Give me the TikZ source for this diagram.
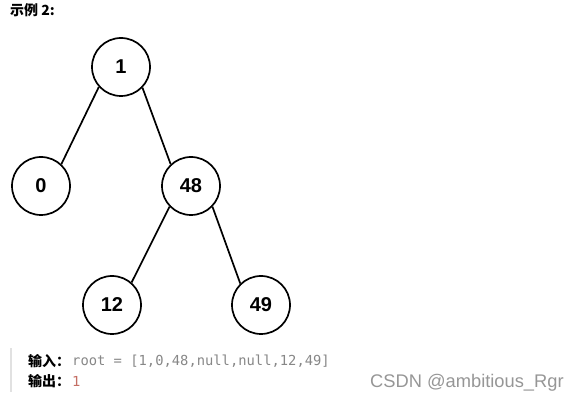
\documentclass[tikz,border=0pt]{standalone}
\usepackage{fontspec}
\setmainfont{Liberation Sans}
\newfontfamily\cjk{Noto Sans CJK SC}
\newfontfamily\codefont{DejaVu Sans Mono}
\definecolor{codegray}{RGB}{135,135,135}
\definecolor{outred}{RGB}{196,110,100}
\definecolor{bargray}{RGB}{225,225,225}
\definecolor{markgray}{RGB}{150,150,150}
\begin{document}
\begin{tikzpicture}[x=1pt, y=-1pt,
    treenode/.style={draw, circle, line width=1.7pt, minimum size=58pt, inner sep=0pt,
      font=\fontsize{20}{24}\selectfont\bfseries},
    treeedge/.style={line width=1.7pt}]
    \useasboundingbox (0,0) rectangle (579,406);
    % heading
    \node[anchor=west, inner sep=0pt, font=\fontsize{14}{16}\selectfont] (title) at (10,10) {\cjk\bfseries 示例 2:};
    % tree
    \node[treenode] (one) at (121,67) {1};
    \node[treenode] (zero) at (41,186) {0};
    \node[treenode] (fortyeight) at (191,186) {48};
    \node[treenode] (twelve) at (112,305) {12};
    \node[treenode] (fortynine) at (261,305) {49};
    \foreach \from/\fa/\to/\ta in {one/222/zero/47, one/316/fortyeight/133,
        fortyeight/224/twelve/49, fortyeight/316/fortynine/134}
        \draw[treeedge] (\from.\fa) -- (\to.\ta);
    % example block
    \fill[bargray] (10,348) rectangle (12,392);
    \node[anchor=west, inner sep=0pt, font=\fontsize{14}{16}\selectfont] (inlabel) at (28,361) {\cjk\bfseries 输入：};
    \node[anchor=west, inner sep=0pt, text=codegray, font=\codefont\fontsize{13.8}{16}\selectfont] (incode) at (72,361) {root = [1,0,48,null,null,12,49]};
    \node[anchor=west, inner sep=0pt, font=\fontsize{14}{16}\selectfont] (outlabel) at (28,381) {\cjk\bfseries 输出：};
    \node[anchor=west, inner sep=0pt, text=outred, font=\codefont\fontsize{13.8}{16}\selectfont] (outcode) at (72,381) {1};
    \node[anchor=west, inner sep=0pt, text=markgray, font=\fontsize{18.3}{22}\selectfont] (mark) at (370,383) {CSDN @ambitious\_Rgr};
\end{tikzpicture}
\end{document}
